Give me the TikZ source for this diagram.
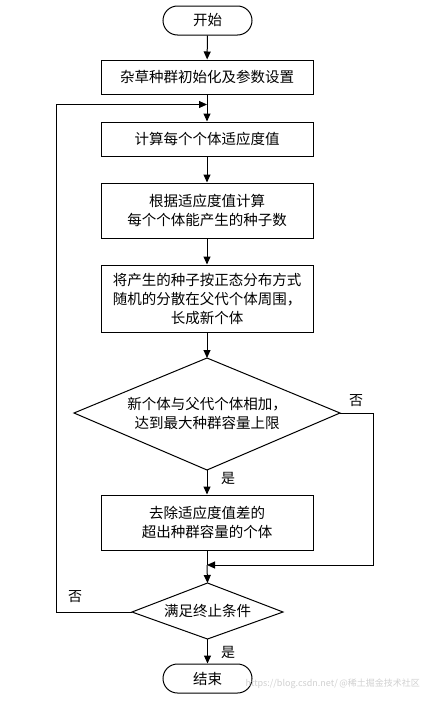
\documentclass[tikz,border=0pt]{standalone}
\usepackage{fontspec}
\setmainfont{Liberation Serif}
\newfontfamily\cjk{Noto Sans CJK SC}
\usetikzlibrary{shapes.geometric,arrows.meta}
\begin{document}
\begin{tikzpicture}[x=1pt,y=-1pt,
  every node/.style={font=\cjk\fontsize{14.5}{19}\selectfont},
  proc/.style={draw,line width=1pt,rectangle,minimum width=212pt,align=center,inner sep=0pt},
  term/.style={draw,line width=1pt,rounded corners=14.5pt,minimum width=89pt,minimum height=29pt,inner sep=0pt},
  conn/.style={line width=1pt,-{Triangle[length=8pt,width=7pt]}},
  lbl/.style={font=\cjk\fontsize{14}{16}\selectfont}]
\useasboundingbox (0,0) rectangle (430,704);
\fill[white] (0,0) rectangle (430,704);
\node[term] (start) at (207.5,20.5) {开始};
\node[proc,minimum height=34pt] (init) at (207,77) {杂草种群初始化及参数设置};
\node[proc,minimum height=34pt] (fit) at (207,139) {计算每个个体适应度值};
\node[proc,minimum height=55pt] (seed) at (207,210.5) {根据适应度值计算\\每个个体能产生的种子数};
\node[proc,minimum height=67pt] (spread) at (207,298.5) {将产生的种子按正态分布方式\\随机的分散在父代个体周围，\\长成新个体};
\path[draw,line width=1pt] (74,413) coordinate (d1w) -- (207,358) coordinate (d1n) -- (340,413) coordinate (d1e) -- (207,470) coordinate (d1s) -- cycle;
\node[align=center] (d1) at (207,413) {新个体与父代个体相加，\\达到最大种群容量上限};
\node[proc,minimum height=55pt] (remove) at (207,522.5) {去除适应度值差的\\超出种群容量的个体};
\path[draw,line width=1pt] (132,612) coordinate (d2w) -- (207.5,583) coordinate (d2n) -- (283,612) coordinate (d2e) -- (207.5,639) coordinate (d2s) -- cycle;
\node (d2) at (207.5,611) {满足终止条件};
\node[term] (end) at (207.5,678.5) {结束};
\coordinate (loopin) at (207,104.5);
\coordinate (loopl1) at (56,612);
\coordinate (loopl2) at (56,104.5);
\coordinate (merge) at (207,565);
\coordinate (r1) at (373,413);
\coordinate (r2) at (373,565);
\draw[conn] (start) -- (init);
\draw[conn] (init) -- (fit);
\draw[conn] (fit) -- (seed);
\draw[conn] (seed) -- (spread);
\draw[conn] (spread) -- (d1n);
\draw[conn] (d1s) -- (remove);
\draw[line width=1pt] (remove) -- (merge);
\draw[conn] (merge) -- (d2n);
\draw[conn] (d1e) -- (r1) -- (r2) -- (merge);
\draw[conn] (d2w) -- (loopl1) -- (loopl2) -- (loopin);
\draw[conn] (d2s) -- (end);
\node[lbl] (no1) at (356,401) {否};
\node[lbl] (yes1) at (228,478) {是};
\node[lbl] (no2) at (75,597) {否};
\node[lbl] (yes2) at (228,652) {是};
\node[text=black!18,font=\fontsize{9}{11}\selectfont\cjk,anchor=east,inner sep=0pt] (wm) at (420,684) {https://blog.csdn.net/\,@稀土掘金技术社区};
\end{tikzpicture}
\end{document}
